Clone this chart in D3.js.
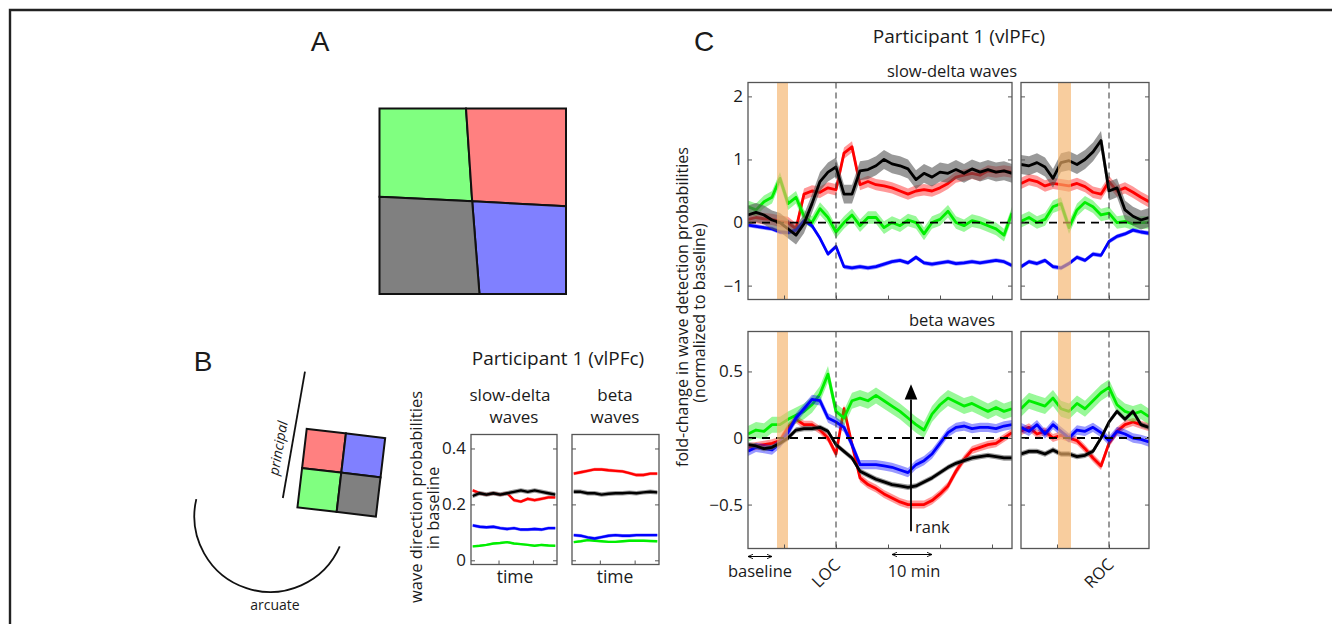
<!DOCTYPE html>
<html>
<head>
<meta charset="utf-8">
<script src="https://cdn.jsdelivr.net/npm/d3@7"></script>
<style>
    body { margin: 0; background: #fff; }
    svg text { font-family: "Open Sans", "Noto Sans", sans-serif; fill: #1a1a1a; }
    .letter { font-family: "Liberation Sans", Arial, sans-serif; font-size: 28px; }
</style>
</head>
<body>
<svg id="fig" width="1332" height="624"></svg>
<script>
// ---- panel C: minutes around LOC (left boxes) and ROC (right boxes)
var locTimes = [-22,-20,-18,-16,-14,-12,-10,-8,-6,-4,-2,0,2,4,6,8,10,12,14,16,18,20,22,24,26,28,30,32,34,36,38,40,42,44];
var rocTimes = [-22,-20,-18,-16,-14,-12,-10,-8,-6,-4,-2,0,2,4,6,8,10];
var locTicks = [-13, 0, 13, 26, 39];
var rocTicks = [-13, 0];
var locPropofol = [-14.75, -12];
var rocPropofol = [-12.75, -9.5];

var slowTicks = [-1, 0, 1, 2];
var betaTicks = [-0.5, 0, 0.5];

// slow-delta waves, fold-change
var slowLocRed   = [0.05,0.08,0.06,0.05,0.02,0.0,-0.1,0.45,0.5,0.48,0.55,0.52,1.1,1.2,0.6,0.65,0.6,0.58,0.55,0.5,0.45,0.5,0.52,0.5,0.55,0.62,0.72,0.75,0.78,0.75,0.82,0.8,0.82,0.8];
var slowLocGreen = [0.25,0.2,0.33,0.4,0.7,0.3,0.4,0.1,0.0,0.22,0.08,-0.15,0.0,0.12,-0.05,0.08,0.08,-0.08,0.0,-0.05,0.04,0.0,-0.18,0.0,0.05,0.18,0.0,-0.05,0.03,0.0,-0.05,-0.1,-0.2,0.15];
var slowLocBlue  = [-0.04,-0.06,-0.08,-0.1,-0.15,-0.16,-0.12,0.03,-0.05,-0.25,-0.5,-0.38,-0.7,-0.72,-0.7,-0.72,-0.7,-0.66,-0.62,-0.6,-0.64,-0.55,-0.64,-0.66,-0.64,-0.62,-0.65,-0.64,-0.62,-0.64,-0.62,-0.6,-0.62,-0.68];
var slowLocBlack = [0.12,0.16,0.12,0.04,0.0,-0.1,-0.2,-0.02,0.3,0.65,0.8,0.88,0.45,0.45,0.82,0.84,0.9,1.0,0.93,0.9,0.85,0.68,0.78,0.72,0.8,0.78,0.84,0.78,0.85,0.8,0.84,0.8,0.82,0.78];
var slowRocRed   = [0.62,0.68,0.65,0.58,0.62,0.6,0.58,0.62,0.57,0.48,0.45,0.65,0.5,0.55,0.48,0.4,0.33];
var slowRocGreen = [0.02,0.08,0.0,0.05,0.25,0.3,-0.08,0.2,0.32,0.25,0.12,0.15,0.0,0.02,-0.02,0.0,0.0];
var slowRocBlue  = [-0.7,-0.62,-0.65,-0.6,-0.7,-0.72,-0.65,-0.55,-0.6,-0.5,-0.52,-0.3,-0.22,-0.18,-0.12,-0.15,-0.17];
var slowRocBlack = [0.92,0.9,0.95,0.88,0.7,0.95,0.98,0.92,1.0,1.12,1.3,0.5,0.55,0.2,0.1,0.04,0.08];

// beta waves, fold-change
var betaLocRed   = [-0.07,-0.06,-0.05,-0.04,-0.02,0.08,0.14,0.1,0.1,0.06,0.0,-0.12,0.22,-0.05,-0.3,-0.35,-0.38,-0.42,-0.45,-0.48,-0.5,-0.5,-0.5,-0.47,-0.42,-0.36,-0.25,-0.16,-0.09,-0.07,-0.05,-0.04,0.0,0.04];
var betaLocGreen = [0.03,0.06,0.05,0.1,0.1,0.14,0.17,0.2,0.25,0.33,0.48,0.2,0.15,0.28,0.3,0.28,0.32,0.28,0.24,0.2,0.15,0.1,0.06,0.18,0.25,0.3,0.27,0.24,0.26,0.23,0.2,0.23,0.2,0.22];
var betaLocBlue  = [-0.1,-0.07,-0.08,-0.09,-0.04,0.04,0.15,0.22,0.29,0.28,0.15,0.12,0.08,-0.05,-0.2,-0.2,-0.2,-0.21,-0.22,-0.24,-0.26,-0.2,-0.17,-0.12,-0.04,0.04,0.08,0.09,0.07,0.08,0.08,0.07,0.09,0.1];
var betaLocBlack = [-0.05,-0.06,-0.08,-0.07,-0.04,0.0,0.06,0.07,0.07,0.08,0.05,-0.05,-0.1,-0.15,-0.25,-0.28,-0.31,-0.33,-0.35,-0.36,-0.37,-0.36,-0.33,-0.3,-0.26,-0.22,-0.19,-0.17,-0.15,-0.14,-0.13,-0.14,-0.15,-0.15];
var betaRocRed   = [0.05,0.08,0.03,0.05,0.0,0.02,0.0,-0.02,-0.08,-0.15,-0.21,-0.04,0.05,0.1,0.12,0.1,0.08];
var betaRocGreen = [0.22,0.28,0.26,0.24,0.3,0.22,0.2,0.26,0.22,0.28,0.34,0.38,0.25,0.2,0.18,0.2,0.16];
var betaRocBlue  = [0.08,0.05,0.1,0.03,0.1,0.05,0.0,0.06,0.05,0.08,0.04,-0.02,0.05,0.03,0.0,-0.01,-0.03];
var betaRocBlack = [-0.12,-0.1,-0.1,-0.12,-0.09,-0.12,-0.12,-0.14,-0.13,-0.1,0.0,0.12,0.2,0.14,0.2,0.1,0.08];

// half-width of shaded error band: red, green, blue, black
var slowSem = [0.09, 0.1, 0.035, 0.15];
var betaSem = [0.03, 0.06, 0.035, 0.02];

// ---- panel B: baseline direction probabilities
var baseTimes = [0.5,2.5,4.5,6.5,8.5,10.5,12.5,14.5,16.5,18.5,20.5,22.5,24.5];
var baseTimeTicks = [8, 18];
var baseTicks = [0, 0.2, 0.4];
var baseSlowRed   = [0.25,0.24,0.235,0.24,0.235,0.24,0.215,0.21,0.22,0.215,0.22,0.225,0.225];
var baseSlowGreen = [0.05,0.052,0.055,0.06,0.062,0.065,0.06,0.058,0.055,0.052,0.055,0.053,0.052];
var baseSlowBlue  = [0.125,0.12,0.118,0.12,0.115,0.112,0.115,0.11,0.11,0.112,0.11,0.115,0.115];
var baseSlowBlack = [0.23,0.24,0.235,0.24,0.235,0.24,0.245,0.25,0.245,0.25,0.245,0.24,0.235];
var baseBetaRed   = [0.31,0.315,0.32,0.325,0.325,0.322,0.32,0.318,0.312,0.305,0.305,0.31,0.31];
var baseBetaGreen = [0.065,0.068,0.072,0.07,0.068,0.066,0.066,0.068,0.07,0.07,0.07,0.069,0.068];
var baseBetaBlue  = [0.09,0.088,0.082,0.078,0.083,0.088,0.09,0.088,0.088,0.09,0.09,0.09,0.09];
var baseBetaBlack = [0.245,0.245,0.24,0.24,0.235,0.238,0.24,0.24,0.242,0.24,0.243,0.245,0.243];
var baseSem = [0.006, 0.004, 0.006, 0.008];

// ---- schematics (unit coordinates)
var aQuadColors = ['#80ff80', '#ff8080', '#8080ff', '#808080'];
var aQuadCorners = [
    [[0,0],[0.464,0],[0.497,0.5],[0,0.476]],
    [[0.464,0],[1,0],[1,0.527],[0.497,0.5]],
    [[0.497,0.5],[1,0.527],[1,1],[0.536,1]],
    [[0,0.476],[0.497,0.5],[0.536,1],[0,1]]
];
var bQuadColors = ['#ff8080', '#8080ff', '#80ff80', '#808080'];
var bQuadCells = [[0,0],[1,0],[0,1],[1,1]];
var principalEnds = [[-0.46,-1.28],[-0.74,0.32]];
var arcuateCircle = [-0.9, 0.55, 0.96];   // cx, cy, r
var arcuateAngles = [23.5, 193];          // degrees

var lineColors = ['#ff0000', '#00ee00', '#0000ff', '#000000'];

var svg = d3.select('#fig');
var defs = svg.append('defs');
var clipCount = 0;

defs.append('marker')
    .attr('id', 'head')
    .attr('viewBox', '0 0 10 10')
    .attr('refX', 9).attr('refY', 5)
    .attr('markerWidth', 6).attr('markerHeight', 6)
    .attr('orient', 'auto-start-reverse')
    .append('path')
    .attr('d', 'M0,1 L9,5 L0,9')
    .attr('fill', 'none')
    .attr('stroke', '#000')
    .attr('stroke-width', 1.4);

//outer frame, only top and left edges are in the picture
svg.append('path')
    .attr('d', 'M10,624 L10,10 L1332,10')
    .attr('fill', 'none')
    .attr('stroke', '#222')
    .attr('stroke-width', 2.4);

/**
 * Draws one series: shaded error band and the line on top of it
 */
function drawSeries(g, x, y, times, values, sem, color, lineWidth){
    var area = d3.area()
        .x(function(d, i){ return x(times[i]); })
        .y0(function(d){ return y(d - sem); })
        .y1(function(d){ return y(d + sem); });

    g.append('path')
        .datum(values)
        .attr('d', area)
        .attr('fill', color === '#000000' ? '#555' : color)
        .attr('fill-opacity', color === '#000000' ? 0.6 : 0.4);

    var line = d3.line()
        .x(function(d, i){ return x(times[i]); })
        .y(function(d){ return y(d); });

    g.append('path')
        .datum(values)
        .attr('d', line)
        .attr('fill', 'none')
        .attr('stroke', color)
        .attr('stroke-width', lineWidth)
        .attr('stroke-linejoin', 'round');
}

/**
 * Box with inward ticks on all sides, labels only on the left if asked
 */
function drawBox(g, x, y, xTicks, yTicks, showLabels, fontSize){
    var x0 = x.range()[0], x1 = x.range()[1];
    var yTop = y.range()[1], yBot = y.range()[0];

    var left = g.append('g')
        .attr('transform', 'translate(' + x0 + ',0)')
        .call(d3.axisLeft(y).tickValues(yTicks).tickSizeInner(-4).tickSizeOuter(0).tickPadding(5)
            .tickFormat(showLabels ? d3.format('~g') : ''));
    left.selectAll('text').style('font-size', fontSize + 'px');

    g.append('g')
        .attr('transform', 'translate(' + x1 + ',0)')
        .call(d3.axisRight(y).tickValues(yTicks).tickSizeInner(-4).tickSizeOuter(0).tickFormat(''));

    g.append('g')
        .attr('transform', 'translate(0,' + yBot + ')')
        .call(d3.axisBottom(x).tickValues(xTicks).tickSizeInner(-4).tickSizeOuter(0).tickFormat(''));

    g.selectAll('.domain').remove();
    g.selectAll('.tick line').attr('stroke', '#555');

    g.append('rect')
        .attr('x', x0).attr('y', yTop)
        .attr('width', x1 - x0).attr('height', yBot - yTop)
        .attr('fill', 'none')
        .attr('stroke', '#555')
        .attr('stroke-width', 1.3);
}

/**
 * One fold-change box of panel C
 */
function drawFoldBox(x, y, times, series, sem, yTicks, xTicks, propofol, eventT, showLabels){
    var g = svg.append('g');
    var id = 'clip' + (clipCount++);
    defs.append('clipPath').attr('id', id)
        .append('rect')
        .attr('x', x.range()[0]).attr('y', y.range()[1])
        .attr('width', x.range()[1] - x.range()[0])
        .attr('height', y.range()[0] - y.range()[1]);

    var plot = g.append('g').attr('clip-path', 'url(#' + id + ')');
    series.forEach(function(vals, i){
        drawSeries(plot, x, y, times, vals, sem[i], lineColors[i], 2.8);
    });

    // zero reference
    plot.append('line')
        .attr('x1', x.range()[0]).attr('x2', x.range()[1])
        .attr('y1', y(0)).attr('y2', y(0))
        .attr('stroke', '#000')
        .attr('stroke-width', 1.8)
        .attr('stroke-dasharray', '8,6');

    // propofol onset band
    plot.append('rect')
        .attr('x', x(propofol[0]))
        .attr('width', x(propofol[1]) - x(propofol[0]))
        .attr('y', y.range()[1])
        .attr('height', y.range()[0] - y.range()[1])
        .attr('fill', '#f4b26a')
        .attr('fill-opacity', 0.65);

    // LOC / ROC marker
    plot.append('line')
        .attr('x1', x(eventT)).attr('x2', x(eventT))
        .attr('y1', y.range()[1]).attr('y2', y.range()[0])
        .attr('stroke', '#333')
        .attr('stroke-width', 1)
        .attr('stroke-dasharray', '6,4');

    drawBox(g, x, y, xTicks, yTicks, showLabels, 17);
    return g;
}

// ---------------- panel A
svg.append('text').attr('class', 'letter').attr('x', 320).attr('y', 51)
    .attr('text-anchor', 'middle').text('A');

var ax = d3.scaleLinear().domain([0, 1]).range([379.5, 566]);
var ay = d3.scaleLinear().domain([0, 1]).range([108.5, 294]);
var quadLine = d3.line().x(function(d){ return ax(d[0]); }).y(function(d){ return ay(d[1]); });

svg.append('g').selectAll('path')
    .data(aQuadCorners)
    .enter()
    .append('path')
    .attr('d', function(d){ return quadLine(d) + 'Z'; })
    .attr('fill', function(d, i){ return aQuadColors[i]; })
    .attr('stroke', '#111')
    .attr('stroke-width', 2);

// ---------------- panel B
svg.append('text').attr('class', 'letter').attr('x', 203).attr('y', 371)
    .attr('text-anchor', 'middle').text('B');

var bs = d3.scaleLinear().domain([0, 1]).range([0, 79]);
var schem = svg.append('g').attr('transform', 'translate(341.3,472.7)');

schem.append('g')
    .attr('transform', 'rotate(6.75)')
    .selectAll('rect')
    .data(bQuadCells)
    .enter()
    .append('rect')
    .attr('x', function(d){ return bs(d[0] * 0.5 - 0.5); })
    .attr('y', function(d){ return bs(d[1] * 0.5 - 0.5); })
    .attr('width', bs(0.5))
    .attr('height', bs(0.5))
    .attr('fill', function(d, i){ return bQuadColors[i]; })
    .attr('stroke', '#111')
    .attr('stroke-width', 2);

schem.append('line')
    .attr('x1', bs(principalEnds[0][0])).attr('y1', bs(principalEnds[0][1]))
    .attr('x2', bs(principalEnds[1][0])).attr('y2', bs(principalEnds[1][1]))
    .attr('stroke', '#111')
    .attr('stroke-width', 1.8);

var arcPath = d3.path();
arcPath.arc(bs(arcuateCircle[0]), bs(arcuateCircle[1]), bs(arcuateCircle[2]),
    arcuateAngles[0] * Math.PI / 180, arcuateAngles[1] * Math.PI / 180);
schem.append('path')
    .attr('d', arcPath.toString())
    .attr('fill', 'none')
    .attr('stroke', '#111')
    .attr('stroke-width', 1.8);

svg.append('text')
    .attr('transform', 'translate(283,449) rotate(-80)')
    .attr('text-anchor', 'middle')
    .style('font-size', '14px')
    .style('font-style', 'italic')
    .text('principal');

svg.append('text')
    .attr('x', 275).attr('y', 610)
    .attr('text-anchor', 'middle')
    .style('font-size', '14px')
    .text('arcuate');

svg.append('text').attr('x', 558).attr('y', 365).attr('text-anchor', 'middle')
    .style('font-size', '19px').text('Participant 1 (vlPFc)');

[['slow-delta', 510, 401], ['waves', 514, 423], ['beta', 615, 401], ['waves', 615, 423]]
    .forEach(function(t){
        svg.append('text').attr('x', t[1]).attr('y', t[2]).attr('text-anchor', 'middle')
            .style('font-size', '17px').text(t[0]);
    });

var yBase = d3.scaleLinear().domain([-0.015, 0.45]).range([564.5, 434.5]);
var xBase1 = d3.scaleLinear().domain([0, 25]).range([471, 557]);
var xBase2 = d3.scaleLinear().domain([0, 25]).range([572, 659]);

var baseSlow = svg.append('g');
[baseSlowRed, baseSlowGreen, baseSlowBlue, baseSlowBlack].forEach(function(vals, i){
    drawSeries(baseSlow, xBase1, yBase, baseTimes, vals, baseSem[i], lineColors[i], 2.4);
});
drawBox(baseSlow, xBase1, yBase, baseTimeTicks, baseTicks, true, 17);

var baseBeta = svg.append('g');
[baseBetaRed, baseBetaGreen, baseBetaBlue, baseBetaBlack].forEach(function(vals, i){
    drawSeries(baseBeta, xBase2, yBase, baseTimes, vals, baseSem[i], lineColors[i], 2.4);
});
drawBox(baseBeta, xBase2, yBase, baseTimeTicks, baseTicks, false, 17);

svg.append('text').attr('x', 515).attr('y', 583).attr('text-anchor', 'middle')
    .style('font-size', '17.5px').text('time');
svg.append('text').attr('x', 615).attr('y', 583).attr('text-anchor', 'middle')
    .style('font-size', '17.5px').text('time');

svg.append('text').attr('transform', 'translate(422,497) rotate(-90)').attr('text-anchor', 'middle')
    .style('font-size', '16.5px').text('wave direction probabilities');
svg.append('text').attr('transform', 'translate(439,508) rotate(-90)').attr('text-anchor', 'middle')
    .style('font-size', '16.5px').text('in baseline');

// ---------------- panel C
svg.append('text').attr('class', 'letter').attr('x', 704).attr('y', 51)
    .attr('text-anchor', 'middle').text('C');

svg.append('text').attr('x', 959).attr('y', 43).attr('text-anchor', 'middle')
    .style('font-size', '19px').text('Participant 1 (vlPFc)');
svg.append('text').attr('x', 952).attr('y', 77).attr('text-anchor', 'middle')
    .style('font-size', '16.5px').text('slow-delta waves');
svg.append('text').attr('x', 952).attr('y', 326).attr('text-anchor', 'middle')
    .style('font-size', '16.5px').text('beta waves');

var xLoc = d3.scaleLinear().domain([-22, 44]).range([748, 1012]);
var xRoc = d3.scaleLinear().domain([-22, 10]).range([1021, 1149]);
var ySlow = d3.scaleLinear().domain([-1.22, 2.22]).range([299.5, 82.5]);
var yBeta = d3.scaleLinear().domain([-0.83, 0.8]).range([548.5, 331.5]);

drawFoldBox(xLoc, ySlow, locTimes, [slowLocRed, slowLocGreen, slowLocBlue, slowLocBlack],
    slowSem, slowTicks, locTicks, locPropofol, 0, true);
drawFoldBox(xRoc, ySlow, rocTimes, [slowRocRed, slowRocGreen, slowRocBlue, slowRocBlack],
    slowSem, slowTicks, rocTicks, rocPropofol, 0, false);
var betaLeft = drawFoldBox(xLoc, yBeta, locTimes, [betaLocRed, betaLocGreen, betaLocBlue, betaLocBlack],
    betaSem, betaTicks, locTicks, locPropofol, 0, true);
drawFoldBox(xRoc, yBeta, rocTimes, [betaRocRed, betaRocGreen, betaRocBlue, betaRocBlack],
    betaSem, betaTicks, rocTicks, rocPropofol, 0, false);

// rank arrow
var rankT = 18.75, rankFrom = -0.7, rankTo = 0.38;
betaLeft.append('line')
    .attr('x1', xLoc(rankT)).attr('x2', xLoc(rankT))
    .attr('y1', yBeta(rankFrom)).attr('y2', yBeta(rankTo) + 12)
    .attr('stroke', '#000').attr('stroke-width', 1.8);
betaLeft.append('path')
    .attr('d', d3.symbol().type(d3.symbolTriangle).size(70))
    .attr('transform', 'translate(' + xLoc(rankT) + ',' + (yBeta(rankTo) + 7) + ') scale(1,1.4)')
    .attr('fill', '#000');
betaLeft.append('text')
    .attr('x', xLoc(rankT) + 4).attr('y', yBeta(rankFrom) + 2)
    .style('font-size', '16.5px').text('rank');

// time annotations under the beta boxes
var yAnn = yBeta.range()[0];
svg.append('line')
    .attr('x1', xLoc(-22)).attr('x2', xLoc(-16))
    .attr('y1', yAnn + 8).attr('y2', yAnn + 8)
    .attr('stroke', '#000').attr('stroke-width', 1)
    .attr('marker-start', 'url(#head)').attr('marker-end', 'url(#head)');
svg.append('text').attr('x', xLoc(-19)).attr('y', yAnn + 28).attr('text-anchor', 'middle')
    .style('font-size', '16.5px').text('baseline');

svg.append('line')
    .attr('x1', xLoc(14)).attr('x2', xLoc(24))
    .attr('y1', yAnn + 6).attr('y2', yAnn + 6)
    .attr('stroke', '#000').attr('stroke-width', 1)
    .attr('marker-start', 'url(#head)').attr('marker-end', 'url(#head)');
svg.append('text').attr('x', xLoc(19.5)).attr('y', yAnn + 28).attr('text-anchor', 'middle')
    .style('font-size', '16.5px').text('10 min');

svg.append('text')
    .attr('transform', 'translate(' + (xLoc(0) - 6) + ',' + (yAnn + 29) + ') rotate(-45)')
    .attr('text-anchor', 'middle')
    .style('font-size', '16.5px').text('LOC');
svg.append('text')
    .attr('transform', 'translate(' + (xRoc(0) - 6) + ',' + (yAnn + 29) + ') rotate(-45)')
    .attr('text-anchor', 'middle')
    .style('font-size', '16.5px').text('ROC');

// y label shared by panel C
svg.append('text').attr('transform', 'translate(688,307) rotate(-90)').attr('text-anchor', 'middle')
    .style('font-size', '16px').text('fold-change in wave detection probabilities');
svg.append('text').attr('transform', 'translate(705,313) rotate(-90)').attr('text-anchor', 'middle')
    .style('font-size', '16px').text('(normalized to baseline)');
</script>
</body>
</html>
